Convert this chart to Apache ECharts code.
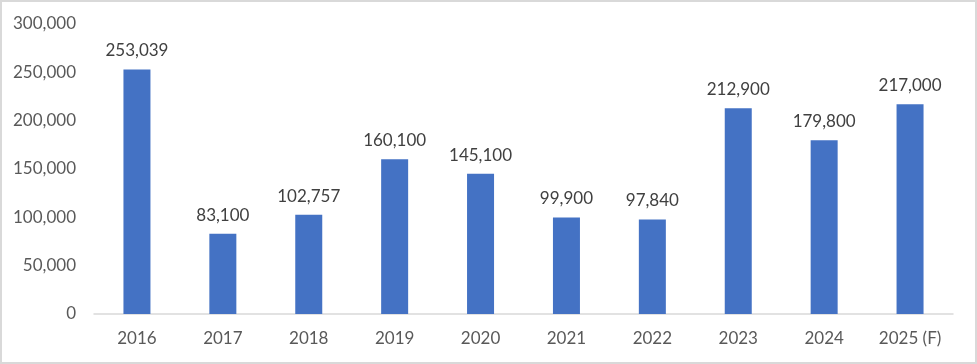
<!DOCTYPE html>
<html>
<head>
<meta charset="utf-8">
<script src="https://cdn.jsdelivr.net/npm/echarts@6/dist/echarts.min.js"></script>
<style>
html,body{margin:0;padding:0;background:#fff;}
#frame{width:977px;height:364px;box-sizing:border-box;border:2px solid #d9d9d9;position:relative;}
#chart{position:absolute;left:-2px;top:-2px;width:977px;height:364px;}
</style>
</head>
<body>
<div id="frame"><div id="chart"></div></div>
<script>
const categories = ['2016','2017','2018','2019','2020','2021','2022','2023','2024','2025 (F)'];
const values = [253039, 83100, 102757, 160100, 145100, 99900, 97840, 212900, 179800, 217000];
const yMin = 0, yMax = 300000, yStep = 50000;

const fmt = v => v.toLocaleString('en-US');
const chart = echarts.init(document.getElementById('chart'));
chart.setOption({
  animation: false,
  textStyle: { fontFamily: 'Lato' },
  grid: { left: 94, right: 24, top: 24, bottom: 50, containLabel: false },
  xAxis: {
    type: 'category',
    data: categories,
    axisLine: { lineStyle: { color: '#d9d9d9', width: 1.5 } },
    axisTick: { show: false },
    axisLabel: { color: '#595959', fontSize: 17, fontFamily: 'Lato', margin: 16 }
  },
  yAxis: {
    type: 'value',
    min: yMin, max: yMax, interval: yStep,
    axisLine: { show: false },
    axisTick: { show: false },
    splitLine: { show: false },
    axisLabel: { color: '#595959', fontSize: 17, fontFamily: 'Lato', margin: 18, formatter: fmt }
  },
  series: [{
    type: 'bar',
    data: values,
    barWidth: 27,
    itemStyle: { color: '#4472C4' },
    label: {
      show: true, position: 'top', distance: 10,
      color: '#404040', fontSize: 17, fontFamily: 'Lato',
      formatter: p => fmt(p.value)
    }
  }]
});
</script>
</body>
</html>
